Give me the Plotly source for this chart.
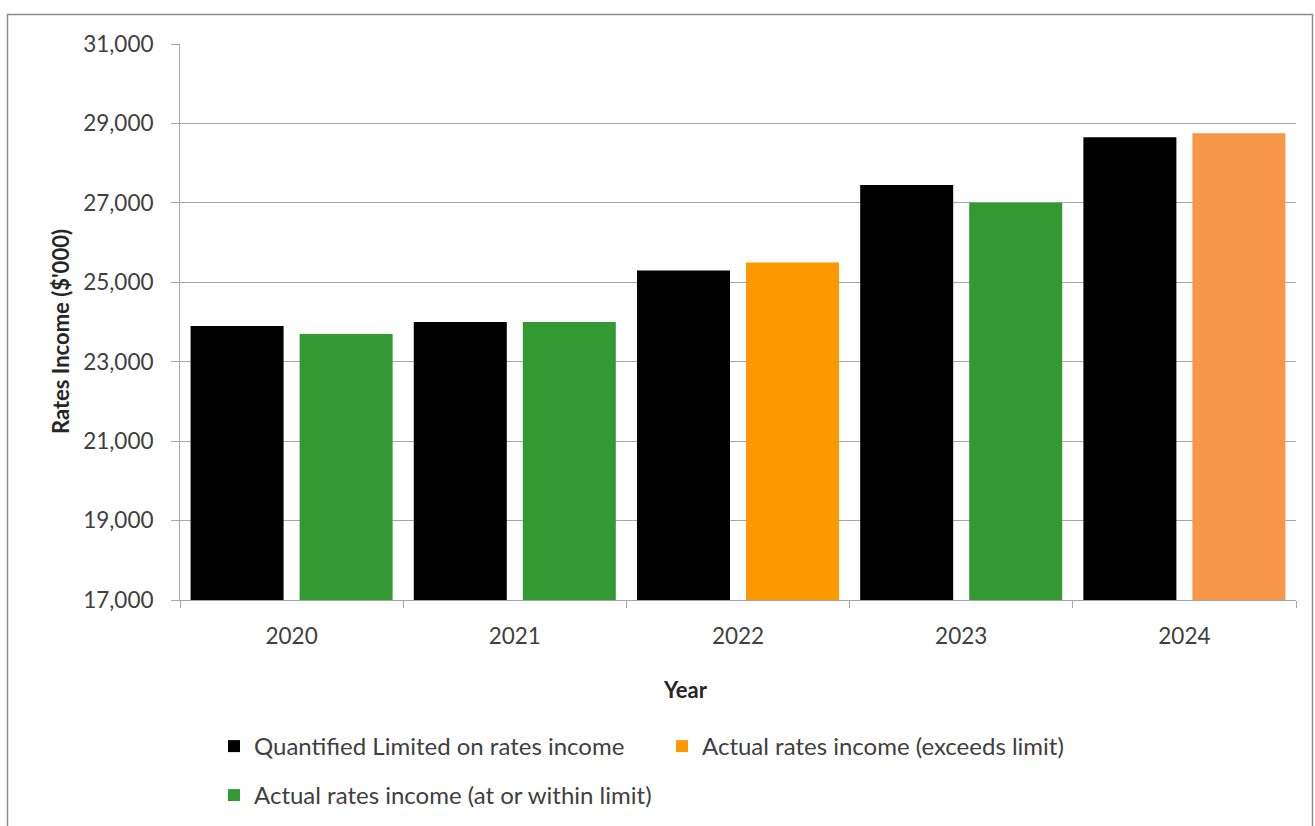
import plotly.graph_objects as go

years = ["2020", "2021", "2022", "2023", "2024"]
limit_values = [23900, 24000, 25300, 27450, 28650]
exceeds_years = ["2022", "2024"]
exceeds_values = [25500, 28750]
exceeds_colors = ["#FF9900", "#F79646"]
within_years = ["2020", "2021", "2023"]
within_values = [23700, 24000, 27000]

y_ticks = [17000, 19000, 21000, 23000, 25000, 27000, 29000, 31000]

FONT = "Lato"
TXT = "#404040"
GRID = "#A6A6A6"

fig = go.Figure()
fig.add_trace(go.Bar(
    x=years, y=limit_values, name="Quantified Limited on rates income",
    marker=dict(color="#000000", line=dict(width=0)),
    offsetgroup="limit", legend="legend",
))
fig.add_trace(go.Bar(
    x=exceeds_years, y=exceeds_values, name="Actual rates income (exceeds limit)",
    marker=dict(color=exceeds_colors, line=dict(width=0)),
    offsetgroup="actual", legend="legend",
))
fig.add_trace(go.Bar(
    x=within_years, y=within_values, name="Actual rates income (at or within limit)",
    marker=dict(color="#339933", line=dict(width=0)),
    offsetgroup="actual", legend="legend2",
))

L, R, T, B = 180, 19, 44, 226
W, H = 1315, 826
pw, ph = W - L - R, H - T - B

def px_x(px):
    return (px - L) / pw

def px_y(py):
    return (H - B - py) / ph

fig.update_layout(
    width=W, height=H,
    margin=dict(l=L, r=R, t=T, b=B, autoexpand=False),
    paper_bgcolor="white", plot_bgcolor="white",
    font=dict(family=FONT, size=22, color=TXT),
    barmode="group", bargap=0.023, bargroupgap=0.147,
    showlegend=True,
    legend=dict(
        orientation="h", x=px_x(214), y=px_y(724), xanchor="left", yanchor="top",
        entrywidth=403, entrywidthmode="pixels",
        font=dict(family=FONT, size=24, color=TXT), bgcolor="rgba(0,0,0,0)",
        traceorder="normal",
    ),
    legend2=dict(
        orientation="h", x=px_x(214), y=px_y(773), xanchor="left", yanchor="top",
        font=dict(family=FONT, size=24, color=TXT), bgcolor="rgba(0,0,0,0)",
    ),
    xaxis=dict(
        type="category", categoryorder="array", categoryarray=years,
        showline=True, linecolor=GRID, linewidth=1,
        ticks="outside", tickson="boundaries", ticklen=7, tickcolor=GRID,
        ticklabelstandoff=16,
        tickfont=dict(family=FONT, size=22.5, color=TXT),
        showgrid=False, fixedrange=True,
    ),
    yaxis=dict(
        range=[17000, 31000.5], tickvals=y_ticks, tickformat=",d",
        showline=True, linecolor=GRID, linewidth=1,
        ticks="outside", ticklen=8, tickcolor=GRID,
        ticklabelstandoff=13,
        showgrid=True, gridcolor=GRID, gridwidth=1, zeroline=False,
        tickfont=dict(family=FONT, size=22.5, color=TXT),
    ),
    annotations=[
        dict(text="<b>Year</b>", x=px_x(685), y=px_y(690), xref="paper", yref="paper",
             showarrow=False, font=dict(family=FONT, size=22, color="#262626"),
             xanchor="center", yanchor="middle"),
        dict(text="<b>Rates Income ($'000)</b>", x=px_x(60), y=px_y(332), xref="paper", yref="paper",
             showarrow=False, textangle=-90, font=dict(family=FONT, size=22, color="#262626"),
             xanchor="center", yanchor="middle"),
    ],
    shapes=[
        dict(type="rect", xref="paper", yref="paper",
             x0=px_x(7.5), x1=px_x(1312.5), y0=px_y(840), y1=px_y(14.5),
             line=dict(color="#8C8C8C", width=1.5), fillcolor="rgba(0,0,0,0)", layer="below"),
    ],
)

fig.write_html("out.html", config={"displayModeBar": False},
               post_script="document.body.style.margin='0';")
